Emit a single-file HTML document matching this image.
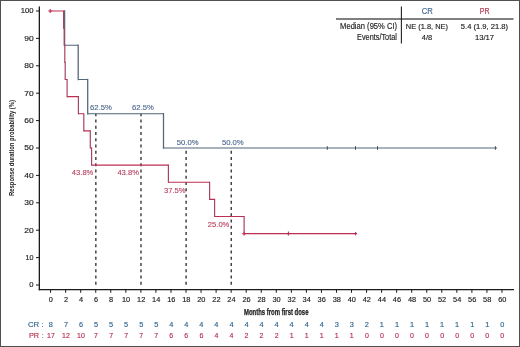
<!DOCTYPE html><html><head><meta charset="utf-8"><style>html,body{margin:0;padding:0;background:#fff;}svg{will-change:transform;}svg{display:block;}text{-webkit-font-smoothing:antialiased;}text{font-family:"Liberation Sans", sans-serif;}</style></head><body>
<svg width="520" height="347" viewBox="0 0 520 347">
<rect x="0" y="0" width="520" height="347" fill="#fff"/>
<rect x="0.5" y="0.5" width="519" height="346" fill="none" stroke="#505050" stroke-width="1"/>
<line x1="39.35" y1="6.5" x2="39.35" y2="290.2" stroke="#1a1a1a" stroke-width="1.3"/>
<line x1="38.7" y1="289.6" x2="514" y2="289.6" stroke="#1a1a1a" stroke-width="1.3"/>
<line x1="36" y1="285.00" x2="39.3" y2="285.00" stroke="#1a1a1a" stroke-width="1"/>
<text x="33.6" y="287.30" font-size="7.3" fill="#222" text-anchor="end" font-weight="normal" textLength="4.3" lengthAdjust="spacingAndGlyphs" stroke="#222" stroke-width="0.15">0</text>
<line x1="36" y1="257.60" x2="39.3" y2="257.60" stroke="#1a1a1a" stroke-width="1"/>
<text x="33.6" y="259.90" font-size="7.3" fill="#222" text-anchor="end" font-weight="normal" textLength="8.0" lengthAdjust="spacingAndGlyphs" stroke="#222" stroke-width="0.15">10</text>
<line x1="36" y1="230.20" x2="39.3" y2="230.20" stroke="#1a1a1a" stroke-width="1"/>
<text x="33.6" y="232.50" font-size="7.3" fill="#222" text-anchor="end" font-weight="normal" textLength="9.4" lengthAdjust="spacingAndGlyphs" stroke="#222" stroke-width="0.15">20</text>
<line x1="36" y1="202.80" x2="39.3" y2="202.80" stroke="#1a1a1a" stroke-width="1"/>
<text x="33.6" y="205.10" font-size="7.3" fill="#222" text-anchor="end" font-weight="normal" textLength="9.4" lengthAdjust="spacingAndGlyphs" stroke="#222" stroke-width="0.15">30</text>
<line x1="36" y1="175.40" x2="39.3" y2="175.40" stroke="#1a1a1a" stroke-width="1"/>
<text x="33.6" y="177.70" font-size="7.3" fill="#222" text-anchor="end" font-weight="normal" textLength="9.4" lengthAdjust="spacingAndGlyphs" stroke="#222" stroke-width="0.15">40</text>
<line x1="36" y1="148.00" x2="39.3" y2="148.00" stroke="#1a1a1a" stroke-width="1"/>
<text x="33.6" y="150.30" font-size="7.3" fill="#222" text-anchor="end" font-weight="normal" textLength="9.4" lengthAdjust="spacingAndGlyphs" stroke="#222" stroke-width="0.15">50</text>
<line x1="36" y1="120.60" x2="39.3" y2="120.60" stroke="#1a1a1a" stroke-width="1"/>
<text x="33.6" y="122.90" font-size="7.3" fill="#222" text-anchor="end" font-weight="normal" textLength="9.4" lengthAdjust="spacingAndGlyphs" stroke="#222" stroke-width="0.15">60</text>
<line x1="36" y1="93.20" x2="39.3" y2="93.20" stroke="#1a1a1a" stroke-width="1"/>
<text x="33.6" y="95.50" font-size="7.3" fill="#222" text-anchor="end" font-weight="normal" textLength="9.4" lengthAdjust="spacingAndGlyphs" stroke="#222" stroke-width="0.15">70</text>
<line x1="36" y1="65.80" x2="39.3" y2="65.80" stroke="#1a1a1a" stroke-width="1"/>
<text x="33.6" y="68.10" font-size="7.3" fill="#222" text-anchor="end" font-weight="normal" textLength="9.4" lengthAdjust="spacingAndGlyphs" stroke="#222" stroke-width="0.15">80</text>
<line x1="36" y1="38.40" x2="39.3" y2="38.40" stroke="#1a1a1a" stroke-width="1"/>
<text x="33.6" y="40.70" font-size="7.3" fill="#222" text-anchor="end" font-weight="normal" textLength="9.4" lengthAdjust="spacingAndGlyphs" stroke="#222" stroke-width="0.15">90</text>
<line x1="36" y1="11.00" x2="39.3" y2="11.00" stroke="#1a1a1a" stroke-width="1"/>
<text x="33.6" y="13.30" font-size="7.3" fill="#222" text-anchor="end" font-weight="normal" textLength="12.8" lengthAdjust="spacingAndGlyphs" stroke="#222" stroke-width="0.15">100</text>
<line x1="50.60" y1="289.6" x2="50.60" y2="292.8" stroke="#1a1a1a" stroke-width="1"/>
<text x="50.90" y="301.8" font-size="6.8" fill="#222" text-anchor="middle" font-weight="normal" textLength="4.1" lengthAdjust="spacingAndGlyphs" stroke="#222" stroke-width="0.15">0</text>
<line x1="65.65" y1="289.6" x2="65.65" y2="292.8" stroke="#1a1a1a" stroke-width="1"/>
<text x="65.95" y="301.8" font-size="6.8" fill="#222" text-anchor="middle" font-weight="normal" textLength="4.1" lengthAdjust="spacingAndGlyphs" stroke="#222" stroke-width="0.15">2</text>
<line x1="80.69" y1="289.6" x2="80.69" y2="292.8" stroke="#1a1a1a" stroke-width="1"/>
<text x="80.99" y="301.8" font-size="6.8" fill="#222" text-anchor="middle" font-weight="normal" textLength="4.1" lengthAdjust="spacingAndGlyphs" stroke="#222" stroke-width="0.15">4</text>
<line x1="95.74" y1="289.6" x2="95.74" y2="292.8" stroke="#1a1a1a" stroke-width="1"/>
<text x="96.04" y="301.8" font-size="6.8" fill="#222" text-anchor="middle" font-weight="normal" textLength="4.1" lengthAdjust="spacingAndGlyphs" stroke="#222" stroke-width="0.15">6</text>
<line x1="110.78" y1="289.6" x2="110.78" y2="292.8" stroke="#1a1a1a" stroke-width="1"/>
<text x="111.08" y="301.8" font-size="6.8" fill="#222" text-anchor="middle" font-weight="normal" textLength="4.1" lengthAdjust="spacingAndGlyphs" stroke="#222" stroke-width="0.15">8</text>
<line x1="125.83" y1="289.6" x2="125.83" y2="292.8" stroke="#1a1a1a" stroke-width="1"/>
<text x="126.13" y="301.8" font-size="6.8" fill="#222" text-anchor="middle" font-weight="normal" textLength="8.2" lengthAdjust="spacingAndGlyphs" stroke="#222" stroke-width="0.15">10</text>
<line x1="140.88" y1="289.6" x2="140.88" y2="292.8" stroke="#1a1a1a" stroke-width="1"/>
<text x="141.18" y="301.8" font-size="6.8" fill="#222" text-anchor="middle" font-weight="normal" textLength="8.2" lengthAdjust="spacingAndGlyphs" stroke="#222" stroke-width="0.15">12</text>
<line x1="155.92" y1="289.6" x2="155.92" y2="292.8" stroke="#1a1a1a" stroke-width="1"/>
<text x="156.22" y="301.8" font-size="6.8" fill="#222" text-anchor="middle" font-weight="normal" textLength="8.2" lengthAdjust="spacingAndGlyphs" stroke="#222" stroke-width="0.15">14</text>
<line x1="170.97" y1="289.6" x2="170.97" y2="292.8" stroke="#1a1a1a" stroke-width="1"/>
<text x="171.27" y="301.8" font-size="6.8" fill="#222" text-anchor="middle" font-weight="normal" textLength="8.2" lengthAdjust="spacingAndGlyphs" stroke="#222" stroke-width="0.15">16</text>
<line x1="186.01" y1="289.6" x2="186.01" y2="292.8" stroke="#1a1a1a" stroke-width="1"/>
<text x="186.31" y="301.8" font-size="6.8" fill="#222" text-anchor="middle" font-weight="normal" textLength="8.2" lengthAdjust="spacingAndGlyphs" stroke="#222" stroke-width="0.15">18</text>
<line x1="201.06" y1="289.6" x2="201.06" y2="292.8" stroke="#1a1a1a" stroke-width="1"/>
<text x="201.36" y="301.8" font-size="6.8" fill="#222" text-anchor="middle" font-weight="normal" textLength="8.2" lengthAdjust="spacingAndGlyphs" stroke="#222" stroke-width="0.15">20</text>
<line x1="216.11" y1="289.6" x2="216.11" y2="292.8" stroke="#1a1a1a" stroke-width="1"/>
<text x="216.41" y="301.8" font-size="6.8" fill="#222" text-anchor="middle" font-weight="normal" textLength="8.2" lengthAdjust="spacingAndGlyphs" stroke="#222" stroke-width="0.15">22</text>
<line x1="231.15" y1="289.6" x2="231.15" y2="292.8" stroke="#1a1a1a" stroke-width="1"/>
<text x="231.45" y="301.8" font-size="6.8" fill="#222" text-anchor="middle" font-weight="normal" textLength="8.2" lengthAdjust="spacingAndGlyphs" stroke="#222" stroke-width="0.15">24</text>
<line x1="246.20" y1="289.6" x2="246.20" y2="292.8" stroke="#1a1a1a" stroke-width="1"/>
<text x="246.50" y="301.8" font-size="6.8" fill="#222" text-anchor="middle" font-weight="normal" textLength="8.2" lengthAdjust="spacingAndGlyphs" stroke="#222" stroke-width="0.15">26</text>
<line x1="261.24" y1="289.6" x2="261.24" y2="292.8" stroke="#1a1a1a" stroke-width="1"/>
<text x="261.54" y="301.8" font-size="6.8" fill="#222" text-anchor="middle" font-weight="normal" textLength="8.2" lengthAdjust="spacingAndGlyphs" stroke="#222" stroke-width="0.15">28</text>
<line x1="276.29" y1="289.6" x2="276.29" y2="292.8" stroke="#1a1a1a" stroke-width="1"/>
<text x="276.59" y="301.8" font-size="6.8" fill="#222" text-anchor="middle" font-weight="normal" textLength="8.2" lengthAdjust="spacingAndGlyphs" stroke="#222" stroke-width="0.15">30</text>
<line x1="291.34" y1="289.6" x2="291.34" y2="292.8" stroke="#1a1a1a" stroke-width="1"/>
<text x="291.64" y="301.8" font-size="6.8" fill="#222" text-anchor="middle" font-weight="normal" textLength="8.2" lengthAdjust="spacingAndGlyphs" stroke="#222" stroke-width="0.15">32</text>
<line x1="306.38" y1="289.6" x2="306.38" y2="292.8" stroke="#1a1a1a" stroke-width="1"/>
<text x="306.68" y="301.8" font-size="6.8" fill="#222" text-anchor="middle" font-weight="normal" textLength="8.2" lengthAdjust="spacingAndGlyphs" stroke="#222" stroke-width="0.15">34</text>
<line x1="321.43" y1="289.6" x2="321.43" y2="292.8" stroke="#1a1a1a" stroke-width="1"/>
<text x="321.73" y="301.8" font-size="6.8" fill="#222" text-anchor="middle" font-weight="normal" textLength="8.2" lengthAdjust="spacingAndGlyphs" stroke="#222" stroke-width="0.15">36</text>
<line x1="336.47" y1="289.6" x2="336.47" y2="292.8" stroke="#1a1a1a" stroke-width="1"/>
<text x="336.77" y="301.8" font-size="6.8" fill="#222" text-anchor="middle" font-weight="normal" textLength="8.2" lengthAdjust="spacingAndGlyphs" stroke="#222" stroke-width="0.15">38</text>
<line x1="351.52" y1="289.6" x2="351.52" y2="292.8" stroke="#1a1a1a" stroke-width="1"/>
<text x="351.82" y="301.8" font-size="6.8" fill="#222" text-anchor="middle" font-weight="normal" textLength="8.2" lengthAdjust="spacingAndGlyphs" stroke="#222" stroke-width="0.15">40</text>
<line x1="366.57" y1="289.6" x2="366.57" y2="292.8" stroke="#1a1a1a" stroke-width="1"/>
<text x="366.87" y="301.8" font-size="6.8" fill="#222" text-anchor="middle" font-weight="normal" textLength="8.2" lengthAdjust="spacingAndGlyphs" stroke="#222" stroke-width="0.15">42</text>
<line x1="381.61" y1="289.6" x2="381.61" y2="292.8" stroke="#1a1a1a" stroke-width="1"/>
<text x="381.91" y="301.8" font-size="6.8" fill="#222" text-anchor="middle" font-weight="normal" textLength="8.2" lengthAdjust="spacingAndGlyphs" stroke="#222" stroke-width="0.15">44</text>
<line x1="396.66" y1="289.6" x2="396.66" y2="292.8" stroke="#1a1a1a" stroke-width="1"/>
<text x="396.96" y="301.8" font-size="6.8" fill="#222" text-anchor="middle" font-weight="normal" textLength="8.2" lengthAdjust="spacingAndGlyphs" stroke="#222" stroke-width="0.15">46</text>
<line x1="411.70" y1="289.6" x2="411.70" y2="292.8" stroke="#1a1a1a" stroke-width="1"/>
<text x="412.00" y="301.8" font-size="6.8" fill="#222" text-anchor="middle" font-weight="normal" textLength="8.2" lengthAdjust="spacingAndGlyphs" stroke="#222" stroke-width="0.15">48</text>
<line x1="426.75" y1="289.6" x2="426.75" y2="292.8" stroke="#1a1a1a" stroke-width="1"/>
<text x="427.05" y="301.8" font-size="6.8" fill="#222" text-anchor="middle" font-weight="normal" textLength="8.2" lengthAdjust="spacingAndGlyphs" stroke="#222" stroke-width="0.15">50</text>
<line x1="441.80" y1="289.6" x2="441.80" y2="292.8" stroke="#1a1a1a" stroke-width="1"/>
<text x="442.10" y="301.8" font-size="6.8" fill="#222" text-anchor="middle" font-weight="normal" textLength="8.2" lengthAdjust="spacingAndGlyphs" stroke="#222" stroke-width="0.15">52</text>
<line x1="456.84" y1="289.6" x2="456.84" y2="292.8" stroke="#1a1a1a" stroke-width="1"/>
<text x="457.14" y="301.8" font-size="6.8" fill="#222" text-anchor="middle" font-weight="normal" textLength="8.2" lengthAdjust="spacingAndGlyphs" stroke="#222" stroke-width="0.15">54</text>
<line x1="471.89" y1="289.6" x2="471.89" y2="292.8" stroke="#1a1a1a" stroke-width="1"/>
<text x="472.19" y="301.8" font-size="6.8" fill="#222" text-anchor="middle" font-weight="normal" textLength="8.2" lengthAdjust="spacingAndGlyphs" stroke="#222" stroke-width="0.15">56</text>
<line x1="486.93" y1="289.6" x2="486.93" y2="292.8" stroke="#1a1a1a" stroke-width="1"/>
<text x="487.23" y="301.8" font-size="6.8" fill="#222" text-anchor="middle" font-weight="normal" textLength="8.2" lengthAdjust="spacingAndGlyphs" stroke="#222" stroke-width="0.15">58</text>
<line x1="501.98" y1="289.6" x2="501.98" y2="292.8" stroke="#1a1a1a" stroke-width="1"/>
<text x="502.28" y="301.8" font-size="6.8" fill="#222" text-anchor="middle" font-weight="normal" textLength="8.2" lengthAdjust="spacingAndGlyphs" stroke="#222" stroke-width="0.15">60</text>
<text x="244" y="314.8" font-size="9" fill="#1a1a1a" text-anchor="start" font-weight="bold" textLength="64.5" lengthAdjust="spacingAndGlyphs" stroke="#1a1a1a" stroke-width="0.25">Months from first dose</text>
<text transform="translate(13.5,196) rotate(-90)" x="0" y="0" font-size="8.1" font-weight="bold" fill="#222" textLength="96" lengthAdjust="spacingAndGlyphs">Response duration probability (%)</text>
<line x1="95.84" y1="284.8" x2="95.84" y2="113.75" stroke="#383838" stroke-width="1.4" stroke-dasharray="3 3.24"/>
<line x1="140.98" y1="284.8" x2="140.98" y2="113.75" stroke="#383838" stroke-width="1.4" stroke-dasharray="3 3.24"/>
<line x1="186.11" y1="284.8" x2="186.11" y2="148.00" stroke="#383838" stroke-width="1.4" stroke-dasharray="3 3.24"/>
<line x1="231.25" y1="284.8" x2="231.25" y2="148.00" stroke="#383838" stroke-width="1.4" stroke-dasharray="3 3.24"/>
<path d="M64.60,11.00 L64.60,11.00 M64.60,11.00 L64.60,45.25 M78.20,45.25 L78.20,79.50 M87.70,79.50 L87.70,113.75 M163.50,113.75 L163.50,148.00 " fill="none" stroke="#59687a" stroke-width="1.3" stroke-linecap="square"/>
<path d="M64.60,45.25 L78.20,45.25 M78.20,79.50 L87.70,79.50 M87.70,113.75 L163.50,113.75 M163.50,148.00 L497.20,148.00 " fill="none" stroke="#52667c" stroke-width="1.2" stroke-linecap="butt"/>
<path d="M63.60,11.00 L63.60,28.12 M64.20,28.12 L64.20,45.25 M64.80,45.25 L64.80,62.37 M65.20,62.37 L65.20,79.50 M67.10,79.50 L67.10,96.62 M78.40,96.62 L78.40,113.75 M83.80,113.75 L83.80,130.88 M90.30,130.88 L90.30,148.00 M91.60,148.00 L91.60,165.12 M168.40,165.12 L168.40,182.25 M209.60,182.25 L209.60,199.38 M214.60,199.38 L214.60,216.50 M244.10,216.50 L244.10,233.62 " fill="none" stroke="#a84462" stroke-width="1.2" stroke-linecap="square"/>
<path d="M50.20,11.00 L63.60,11.00 M63.60,28.12 L64.20,28.12 M64.20,45.25 L64.80,45.25 M64.80,62.37 L65.20,62.37 M65.20,79.50 L67.10,79.50 M67.10,96.62 L78.40,96.62 M78.40,113.75 L83.80,113.75 M83.80,130.88 L90.30,130.88 M90.30,148.00 L91.60,148.00 M91.60,165.12 L168.40,165.12 M168.40,182.25 L209.60,182.25 M209.60,199.38 L214.60,199.38 M214.60,216.50 L244.10,216.50 M244.10,233.62 L355.80,233.62 " fill="none" stroke="#bb3052" stroke-width="1.1" stroke-linecap="butt"/>
<path d="M50.20,8.90 L50.20,13.10 M48.20,11.00 L52.20,11.00" stroke="#bb3052" stroke-width="1.1" fill="none"/>
<path d="M244.10,231.82 L244.10,235.43 M242.30,233.62 L245.90,233.62" stroke="#bb3052" stroke-width="1.1" fill="none"/>
<path d="M288.40,231.62 L288.40,235.62 M286.90,233.62 L289.90,233.62" stroke="#bb3052" stroke-width="1.1" fill="none"/>
<path d="M355.60,231.93 L355.60,235.32 M354.20,233.62 L357.00,233.62" stroke="#bb3052" stroke-width="1.1" fill="none"/>
<path d="M327.30,146.20 L327.30,149.80 M327.30,148.00 L327.30,148.00" stroke="#3c4c5e" stroke-width="1.0" fill="none"/>
<path d="M355.50,146.20 L355.50,149.80 M355.50,148.00 L355.50,148.00" stroke="#3c4c5e" stroke-width="1.0" fill="none"/>
<path d="M377.50,146.20 L377.50,149.80 M377.50,148.00 L377.50,148.00" stroke="#3c4c5e" stroke-width="1.0" fill="none"/>
<path d="M495.40,146.20 L495.40,149.80 M495.40,148.00 L495.40,148.00" stroke="#3c4c5e" stroke-width="1.0" fill="none"/>
<text x="90.1" y="109.9" font-size="7.6" fill="#46648a" text-anchor="start" font-weight="normal" textLength="21.8" lengthAdjust="spacingAndGlyphs" stroke="#46648a" stroke-width="0.1">62.5%</text>
<text x="132.1" y="110.0" font-size="7.6" fill="#46648a" text-anchor="start" font-weight="normal" textLength="21.8" lengthAdjust="spacingAndGlyphs" stroke="#46648a" stroke-width="0.1">62.5%</text>
<text x="176.8" y="144.8" font-size="7.6" fill="#46648a" text-anchor="start" font-weight="normal" textLength="21.8" lengthAdjust="spacingAndGlyphs" stroke="#46648a" stroke-width="0.1">50.0%</text>
<text x="221.9" y="144.8" font-size="7.6" fill="#46648a" text-anchor="start" font-weight="normal" textLength="21.8" lengthAdjust="spacingAndGlyphs" stroke="#46648a" stroke-width="0.1">50.0%</text>
<text x="71.8" y="174.9" font-size="7.6" fill="#b83a5c" text-anchor="start" font-weight="normal" textLength="21.6" lengthAdjust="spacingAndGlyphs" stroke="#b83a5c" stroke-width="0.1">43.8%</text>
<text x="117.4" y="174.8" font-size="7.6" fill="#b83a5c" text-anchor="start" font-weight="normal" textLength="21.6" lengthAdjust="spacingAndGlyphs" stroke="#b83a5c" stroke-width="0.1">43.8%</text>
<text x="164.0" y="192.6" font-size="7.6" fill="#b83a5c" text-anchor="start" font-weight="normal" textLength="21.6" lengthAdjust="spacingAndGlyphs" stroke="#b83a5c" stroke-width="0.1">37.5%</text>
<text x="207.8" y="227.0" font-size="7.6" fill="#b83a5c" text-anchor="start" font-weight="normal" textLength="21.6" lengthAdjust="spacingAndGlyphs" stroke="#b83a5c" stroke-width="0.1">25.0%</text>
<line x1="336" y1="19.0" x2="513.5" y2="19.0" stroke="#555" stroke-width="1.6"/>
<line x1="401.4" y1="6.5" x2="401.4" y2="43.5" stroke="#222" stroke-width="1.1"/>
<text x="421.7" y="14.3" font-size="8.3" fill="#3f6790" text-anchor="start" font-weight="normal" textLength="11.1" lengthAdjust="spacingAndGlyphs" stroke="#3f6790" stroke-width="0.15">CR</text>
<text x="479.8" y="14.2" font-size="8.3" fill="#b8304f" text-anchor="start" font-weight="normal" textLength="9.8" lengthAdjust="spacingAndGlyphs" stroke="#b8304f" stroke-width="0.15">PR</text>
<text x="340.1" y="28.7" font-size="8.2" fill="#222" text-anchor="start" font-weight="normal" textLength="57" lengthAdjust="spacingAndGlyphs" stroke="#222" stroke-width="0.15">Median (95% CI)</text>
<text x="357.1" y="39.8" font-size="8.2" fill="#222" text-anchor="start" font-weight="normal" textLength="39.8" lengthAdjust="spacingAndGlyphs" stroke="#222" stroke-width="0.15">Events/Total</text>
<text x="405.8" y="28.6" font-size="7.7" fill="#222" text-anchor="start" font-weight="normal" textLength="42.2" lengthAdjust="spacingAndGlyphs" stroke="#222" stroke-width="0.15">NE (1.8, NE)</text>
<text x="460.8" y="28.6" font-size="7.7" fill="#222" text-anchor="start" font-weight="normal" textLength="47.3" lengthAdjust="spacingAndGlyphs" stroke="#222" stroke-width="0.15">5.4 (1.9, 21.8)</text>
<text x="421.8" y="39.9" font-size="7.7" fill="#222" text-anchor="start" font-weight="normal" textLength="10.4" lengthAdjust="spacingAndGlyphs" stroke="#222" stroke-width="0.15">4/8</text>
<text x="474.9" y="40.0" font-size="7.7" fill="#222" text-anchor="start" font-weight="normal" textLength="19.2" lengthAdjust="spacingAndGlyphs" stroke="#222" stroke-width="0.15">13/17</text>
<text x="27.9" y="326.6" font-size="7.7" fill="#2f6590" text-anchor="start" font-weight="normal" textLength="11.3" lengthAdjust="spacingAndGlyphs" stroke="#2f6590" stroke-width="0.15">CR</text>
<text x="41.6" y="326.6" font-size="7.8" fill="#4a5a68" text-anchor="start" font-weight="normal" stroke="#4a5a68" stroke-width="0.15">:</text>
<text x="28.9" y="338.4" font-size="7.7" fill="#b52e4e" text-anchor="start" font-weight="normal" textLength="10.3" lengthAdjust="spacingAndGlyphs" stroke="#b52e4e" stroke-width="0.15">PR</text>
<text x="41.6" y="338.4" font-size="7.8" fill="#8a5060" text-anchor="start" font-weight="normal" stroke="#8a5060" stroke-width="0.15">:</text>
<text x="50.90" y="326.6" font-size="7.7" fill="#2f6590" text-anchor="middle" font-weight="normal" textLength="4.1" lengthAdjust="spacingAndGlyphs" stroke="#2f6590" stroke-width="0.15">8</text>
<text x="50.90" y="338.4" font-size="7.7" fill="#b52e4e" text-anchor="middle" font-weight="normal" textLength="7.8" lengthAdjust="spacingAndGlyphs" stroke="#b52e4e" stroke-width="0.15">17</text>
<text x="65.95" y="326.6" font-size="7.7" fill="#2f6590" text-anchor="middle" font-weight="normal" textLength="4.1" lengthAdjust="spacingAndGlyphs" stroke="#2f6590" stroke-width="0.15">7</text>
<text x="65.95" y="338.4" font-size="7.7" fill="#b52e4e" text-anchor="middle" font-weight="normal" textLength="7.8" lengthAdjust="spacingAndGlyphs" stroke="#b52e4e" stroke-width="0.15">12</text>
<text x="80.99" y="326.6" font-size="7.7" fill="#2f6590" text-anchor="middle" font-weight="normal" textLength="4.1" lengthAdjust="spacingAndGlyphs" stroke="#2f6590" stroke-width="0.15">6</text>
<text x="80.99" y="338.4" font-size="7.7" fill="#b52e4e" text-anchor="middle" font-weight="normal" textLength="7.8" lengthAdjust="spacingAndGlyphs" stroke="#b52e4e" stroke-width="0.15">10</text>
<text x="96.04" y="326.6" font-size="7.7" fill="#2f6590" text-anchor="middle" font-weight="normal" textLength="4.1" lengthAdjust="spacingAndGlyphs" stroke="#2f6590" stroke-width="0.15">5</text>
<text x="96.04" y="338.4" font-size="7.7" fill="#b52e4e" text-anchor="middle" font-weight="normal" textLength="3.9" lengthAdjust="spacingAndGlyphs" stroke="#b52e4e" stroke-width="0.15">7</text>
<text x="111.08" y="326.6" font-size="7.7" fill="#2f6590" text-anchor="middle" font-weight="normal" textLength="4.1" lengthAdjust="spacingAndGlyphs" stroke="#2f6590" stroke-width="0.15">5</text>
<text x="111.08" y="338.4" font-size="7.7" fill="#b52e4e" text-anchor="middle" font-weight="normal" textLength="3.9" lengthAdjust="spacingAndGlyphs" stroke="#b52e4e" stroke-width="0.15">7</text>
<text x="126.13" y="326.6" font-size="7.7" fill="#2f6590" text-anchor="middle" font-weight="normal" textLength="4.1" lengthAdjust="spacingAndGlyphs" stroke="#2f6590" stroke-width="0.15">5</text>
<text x="126.13" y="338.4" font-size="7.7" fill="#b52e4e" text-anchor="middle" font-weight="normal" textLength="3.9" lengthAdjust="spacingAndGlyphs" stroke="#b52e4e" stroke-width="0.15">7</text>
<text x="141.18" y="326.6" font-size="7.7" fill="#2f6590" text-anchor="middle" font-weight="normal" textLength="4.1" lengthAdjust="spacingAndGlyphs" stroke="#2f6590" stroke-width="0.15">5</text>
<text x="141.18" y="338.4" font-size="7.7" fill="#b52e4e" text-anchor="middle" font-weight="normal" textLength="3.9" lengthAdjust="spacingAndGlyphs" stroke="#b52e4e" stroke-width="0.15">7</text>
<text x="156.22" y="326.6" font-size="7.7" fill="#2f6590" text-anchor="middle" font-weight="normal" textLength="4.1" lengthAdjust="spacingAndGlyphs" stroke="#2f6590" stroke-width="0.15">5</text>
<text x="156.22" y="338.4" font-size="7.7" fill="#b52e4e" text-anchor="middle" font-weight="normal" textLength="3.9" lengthAdjust="spacingAndGlyphs" stroke="#b52e4e" stroke-width="0.15">7</text>
<text x="171.27" y="326.6" font-size="7.7" fill="#2f6590" text-anchor="middle" font-weight="normal" textLength="4.1" lengthAdjust="spacingAndGlyphs" stroke="#2f6590" stroke-width="0.15">4</text>
<text x="171.27" y="338.4" font-size="7.7" fill="#b52e4e" text-anchor="middle" font-weight="normal" textLength="3.9" lengthAdjust="spacingAndGlyphs" stroke="#b52e4e" stroke-width="0.15">6</text>
<text x="186.31" y="326.6" font-size="7.7" fill="#2f6590" text-anchor="middle" font-weight="normal" textLength="4.1" lengthAdjust="spacingAndGlyphs" stroke="#2f6590" stroke-width="0.15">4</text>
<text x="186.31" y="338.4" font-size="7.7" fill="#b52e4e" text-anchor="middle" font-weight="normal" textLength="3.9" lengthAdjust="spacingAndGlyphs" stroke="#b52e4e" stroke-width="0.15">6</text>
<text x="201.36" y="326.6" font-size="7.7" fill="#2f6590" text-anchor="middle" font-weight="normal" textLength="4.1" lengthAdjust="spacingAndGlyphs" stroke="#2f6590" stroke-width="0.15">4</text>
<text x="201.36" y="338.4" font-size="7.7" fill="#b52e4e" text-anchor="middle" font-weight="normal" textLength="3.9" lengthAdjust="spacingAndGlyphs" stroke="#b52e4e" stroke-width="0.15">6</text>
<text x="216.41" y="326.6" font-size="7.7" fill="#2f6590" text-anchor="middle" font-weight="normal" textLength="4.1" lengthAdjust="spacingAndGlyphs" stroke="#2f6590" stroke-width="0.15">4</text>
<text x="216.41" y="338.4" font-size="7.7" fill="#b52e4e" text-anchor="middle" font-weight="normal" textLength="3.9" lengthAdjust="spacingAndGlyphs" stroke="#b52e4e" stroke-width="0.15">4</text>
<text x="231.45" y="326.6" font-size="7.7" fill="#2f6590" text-anchor="middle" font-weight="normal" textLength="4.1" lengthAdjust="spacingAndGlyphs" stroke="#2f6590" stroke-width="0.15">4</text>
<text x="231.45" y="338.4" font-size="7.7" fill="#b52e4e" text-anchor="middle" font-weight="normal" textLength="3.9" lengthAdjust="spacingAndGlyphs" stroke="#b52e4e" stroke-width="0.15">4</text>
<text x="246.50" y="326.6" font-size="7.7" fill="#2f6590" text-anchor="middle" font-weight="normal" textLength="4.1" lengthAdjust="spacingAndGlyphs" stroke="#2f6590" stroke-width="0.15">4</text>
<text x="246.50" y="338.4" font-size="7.7" fill="#b52e4e" text-anchor="middle" font-weight="normal" textLength="3.9" lengthAdjust="spacingAndGlyphs" stroke="#b52e4e" stroke-width="0.15">2</text>
<text x="261.54" y="326.6" font-size="7.7" fill="#2f6590" text-anchor="middle" font-weight="normal" textLength="4.1" lengthAdjust="spacingAndGlyphs" stroke="#2f6590" stroke-width="0.15">4</text>
<text x="261.54" y="338.4" font-size="7.7" fill="#b52e4e" text-anchor="middle" font-weight="normal" textLength="3.9" lengthAdjust="spacingAndGlyphs" stroke="#b52e4e" stroke-width="0.15">2</text>
<text x="276.59" y="326.6" font-size="7.7" fill="#2f6590" text-anchor="middle" font-weight="normal" textLength="4.1" lengthAdjust="spacingAndGlyphs" stroke="#2f6590" stroke-width="0.15">4</text>
<text x="276.59" y="338.4" font-size="7.7" fill="#b52e4e" text-anchor="middle" font-weight="normal" textLength="3.9" lengthAdjust="spacingAndGlyphs" stroke="#b52e4e" stroke-width="0.15">2</text>
<text x="291.64" y="326.6" font-size="7.7" fill="#2f6590" text-anchor="middle" font-weight="normal" textLength="4.1" lengthAdjust="spacingAndGlyphs" stroke="#2f6590" stroke-width="0.15">4</text>
<text x="291.64" y="338.4" font-size="7.7" fill="#b52e4e" text-anchor="middle" font-weight="normal" textLength="3.9" lengthAdjust="spacingAndGlyphs" stroke="#b52e4e" stroke-width="0.15">1</text>
<text x="306.68" y="326.6" font-size="7.7" fill="#2f6590" text-anchor="middle" font-weight="normal" textLength="4.1" lengthAdjust="spacingAndGlyphs" stroke="#2f6590" stroke-width="0.15">4</text>
<text x="306.68" y="338.4" font-size="7.7" fill="#b52e4e" text-anchor="middle" font-weight="normal" textLength="3.9" lengthAdjust="spacingAndGlyphs" stroke="#b52e4e" stroke-width="0.15">1</text>
<text x="321.73" y="326.6" font-size="7.7" fill="#2f6590" text-anchor="middle" font-weight="normal" textLength="4.1" lengthAdjust="spacingAndGlyphs" stroke="#2f6590" stroke-width="0.15">4</text>
<text x="321.73" y="338.4" font-size="7.7" fill="#b52e4e" text-anchor="middle" font-weight="normal" textLength="3.9" lengthAdjust="spacingAndGlyphs" stroke="#b52e4e" stroke-width="0.15">1</text>
<text x="336.77" y="326.6" font-size="7.7" fill="#2f6590" text-anchor="middle" font-weight="normal" textLength="4.1" lengthAdjust="spacingAndGlyphs" stroke="#2f6590" stroke-width="0.15">3</text>
<text x="336.77" y="338.4" font-size="7.7" fill="#b52e4e" text-anchor="middle" font-weight="normal" textLength="3.9" lengthAdjust="spacingAndGlyphs" stroke="#b52e4e" stroke-width="0.15">1</text>
<text x="351.82" y="326.6" font-size="7.7" fill="#2f6590" text-anchor="middle" font-weight="normal" textLength="4.1" lengthAdjust="spacingAndGlyphs" stroke="#2f6590" stroke-width="0.15">3</text>
<text x="351.82" y="338.4" font-size="7.7" fill="#b52e4e" text-anchor="middle" font-weight="normal" textLength="3.9" lengthAdjust="spacingAndGlyphs" stroke="#b52e4e" stroke-width="0.15">1</text>
<text x="366.87" y="326.6" font-size="7.7" fill="#2f6590" text-anchor="middle" font-weight="normal" textLength="4.1" lengthAdjust="spacingAndGlyphs" stroke="#2f6590" stroke-width="0.15">2</text>
<text x="366.87" y="338.4" font-size="7.7" fill="#b52e4e" text-anchor="middle" font-weight="normal" textLength="3.9" lengthAdjust="spacingAndGlyphs" stroke="#b52e4e" stroke-width="0.15">0</text>
<text x="381.91" y="326.6" font-size="7.7" fill="#2f6590" text-anchor="middle" font-weight="normal" textLength="4.1" lengthAdjust="spacingAndGlyphs" stroke="#2f6590" stroke-width="0.15">1</text>
<text x="381.91" y="338.4" font-size="7.7" fill="#b52e4e" text-anchor="middle" font-weight="normal" textLength="3.9" lengthAdjust="spacingAndGlyphs" stroke="#b52e4e" stroke-width="0.15">0</text>
<text x="396.96" y="326.6" font-size="7.7" fill="#2f6590" text-anchor="middle" font-weight="normal" textLength="4.1" lengthAdjust="spacingAndGlyphs" stroke="#2f6590" stroke-width="0.15">1</text>
<text x="396.96" y="338.4" font-size="7.7" fill="#b52e4e" text-anchor="middle" font-weight="normal" textLength="3.9" lengthAdjust="spacingAndGlyphs" stroke="#b52e4e" stroke-width="0.15">0</text>
<text x="412.00" y="326.6" font-size="7.7" fill="#2f6590" text-anchor="middle" font-weight="normal" textLength="4.1" lengthAdjust="spacingAndGlyphs" stroke="#2f6590" stroke-width="0.15">1</text>
<text x="412.00" y="338.4" font-size="7.7" fill="#b52e4e" text-anchor="middle" font-weight="normal" textLength="3.9" lengthAdjust="spacingAndGlyphs" stroke="#b52e4e" stroke-width="0.15">0</text>
<text x="427.05" y="326.6" font-size="7.7" fill="#2f6590" text-anchor="middle" font-weight="normal" textLength="4.1" lengthAdjust="spacingAndGlyphs" stroke="#2f6590" stroke-width="0.15">1</text>
<text x="427.05" y="338.4" font-size="7.7" fill="#b52e4e" text-anchor="middle" font-weight="normal" textLength="3.9" lengthAdjust="spacingAndGlyphs" stroke="#b52e4e" stroke-width="0.15">0</text>
<text x="442.10" y="326.6" font-size="7.7" fill="#2f6590" text-anchor="middle" font-weight="normal" textLength="4.1" lengthAdjust="spacingAndGlyphs" stroke="#2f6590" stroke-width="0.15">1</text>
<text x="442.10" y="338.4" font-size="7.7" fill="#b52e4e" text-anchor="middle" font-weight="normal" textLength="3.9" lengthAdjust="spacingAndGlyphs" stroke="#b52e4e" stroke-width="0.15">0</text>
<text x="457.14" y="326.6" font-size="7.7" fill="#2f6590" text-anchor="middle" font-weight="normal" textLength="4.1" lengthAdjust="spacingAndGlyphs" stroke="#2f6590" stroke-width="0.15">1</text>
<text x="457.14" y="338.4" font-size="7.7" fill="#b52e4e" text-anchor="middle" font-weight="normal" textLength="3.9" lengthAdjust="spacingAndGlyphs" stroke="#b52e4e" stroke-width="0.15">0</text>
<text x="472.19" y="326.6" font-size="7.7" fill="#2f6590" text-anchor="middle" font-weight="normal" textLength="4.1" lengthAdjust="spacingAndGlyphs" stroke="#2f6590" stroke-width="0.15">1</text>
<text x="472.19" y="338.4" font-size="7.7" fill="#b52e4e" text-anchor="middle" font-weight="normal" textLength="3.9" lengthAdjust="spacingAndGlyphs" stroke="#b52e4e" stroke-width="0.15">0</text>
<text x="487.23" y="326.6" font-size="7.7" fill="#2f6590" text-anchor="middle" font-weight="normal" textLength="4.1" lengthAdjust="spacingAndGlyphs" stroke="#2f6590" stroke-width="0.15">1</text>
<text x="487.23" y="338.4" font-size="7.7" fill="#b52e4e" text-anchor="middle" font-weight="normal" textLength="3.9" lengthAdjust="spacingAndGlyphs" stroke="#b52e4e" stroke-width="0.15">0</text>
<text x="502.28" y="326.6" font-size="7.7" fill="#2f6590" text-anchor="middle" font-weight="normal" textLength="4.1" lengthAdjust="spacingAndGlyphs" stroke="#2f6590" stroke-width="0.15">0</text>
<text x="502.28" y="338.4" font-size="7.7" fill="#b52e4e" text-anchor="middle" font-weight="normal" textLength="3.9" lengthAdjust="spacingAndGlyphs" stroke="#b52e4e" stroke-width="0.15">0</text>
</svg></body></html>
